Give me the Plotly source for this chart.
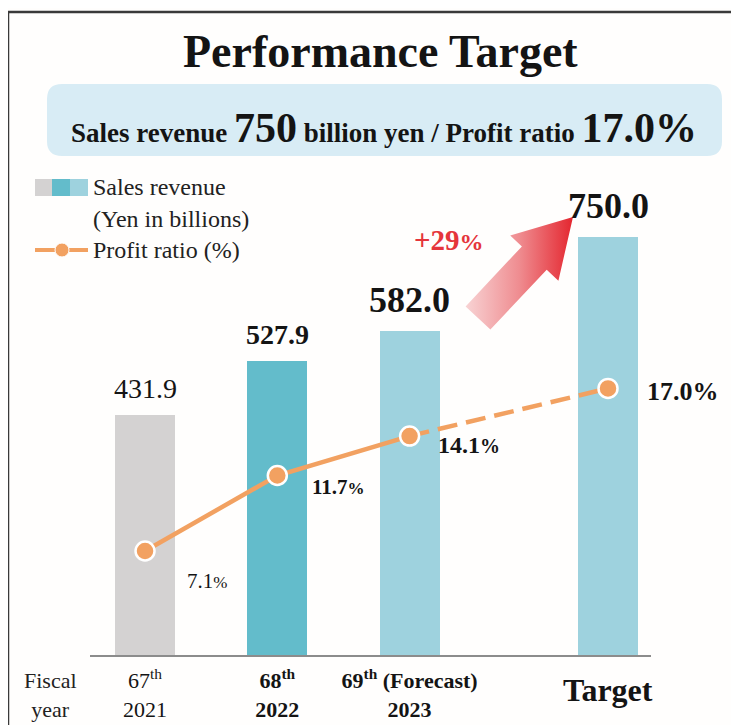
import plotly.graph_objects as go

# The page body adds an 8px offset; the figure is sized/placed so that
# its content lands where the reference shows it.
OFF = 8
W, H = 739 - OFF, 725 - OFF
FONT = "Liberation Serif, Times New Roman, serif"

# ---- data ----
categories = ["67th 2021", "68th 2022", "69th (Forecast) 2023", "Target"]
tick_labels = [
    "67<sup>th</sup><br>2021",
    "<b>68<sup>th</sup><br>2022</b>",
    "<b>69<sup>th</sup> (Forecast)<br>2023</b>",
    "",  # "Target" is drawn slightly lower as its own label below
]
target_label = "<b>Target</b>"
sales = [431.9, 527.9, 582.0, 750.0]          # Yen in billions
profit = [7.1, 11.7, 14.1, 17.0]               # %
n_actual = 3                                   # points joined by a solid line

# ---- layout helpers (positions / styles) ----
slot = [0, 1, 2, 3.5]
bar_colors = ["#d4d2d2", "#63bccb", "#9ed2de", "#9ed2de"]
sales_font = [(28, False), (28, True), (36, True), (36, True)]
profit_font = [(21, 17, False), (21, 17, True), (24, 20, True), (26, 26, True)]
profit_shift = [(40, -30), (33, -12), (26, -9), (37, -3)]
ORANGE = "#f2a161"

fig = go.Figure()

fig.add_trace(go.Bar(
    x=slot, y=sales, width=0.454, marker=dict(color=bar_colors, line=dict(width=0)),
    hoverinfo="skip", showlegend=False, xaxis="x", yaxis="y"))

fig.add_trace(go.Scatter(
    x=slot[:n_actual], y=profit[:n_actual], mode="lines",
    line=dict(color=ORANGE, width=4.5), xaxis="x", yaxis="y2",
    showlegend=False, hoverinfo="skip"))
fig.add_trace(go.Scatter(
    x=slot[n_actual - 1:], y=profit[n_actual - 1:], mode="lines",
    line=dict(color=ORANGE, width=4.5, dash="20px,9px"), xaxis="x", yaxis="y2",
    showlegend=False, hoverinfo="skip"))
fig.add_trace(go.Scatter(
    x=slot, y=profit, mode="markers",
    marker=dict(color=ORANGE, size=19, line=dict(color="white", width=2.5)),
    xaxis="x", yaxis="y2", showlegend=False, hoverinfo="skip"))

# arrow decoration (page-pixel coordinates on overlay axes)
arrow_x = [465.6, 521.9, 510.2, 573.0, 558.4, 546.7, 490.4, 465.6]
arrow_y = [306.4, 246.4, 235.5, 217.0, 280.7, 269.7, 329.6, 306.4]
fig.add_trace(go.Scatter(
    x=arrow_x, y=arrow_y, mode="lines", fill="toself",
    line=dict(width=0, color="rgba(0,0,0,0)"),
    fillgradient=dict(type="horizontal",
                      colorscale=[[0, "#f8d3d4"], [0.5, "#ef8c90"], [1, "#e4262f"]]),
    xaxis="x3", yaxis="y3", showlegend=False, hoverinfo="skip"))

annotations = []
# bar value labels
for x, v, (sz, bold) in zip(slot, sales, sales_font):
    t = f"{v:.1f}"
    annotations.append(dict(
        x=x, y=v, xref="x", yref="y", text=f"<b>{t}</b>" if bold else t,
        showarrow=False, yanchor="bottom", yshift=9,
        font=dict(family=FONT, size=sz, color="#141414")))
# profit labels
for x, v, (sz, psz, bold), (dx, dy) in zip(slot, profit, profit_font, profit_shift):
    t = f"{v:.1f}<span style='font-size:{psz}px'>%</span>"
    annotations.append(dict(
        x=x, y=v, xref="x", yref="y2", text=f"<b>{t}</b>" if bold else t,
        showarrow=False, xanchor="left", yanchor="middle", xshift=dx, yshift=dy,
        font=dict(family=FONT, size=sz, color="#141414")))

def pix(x, y, text, size, **kw):
    d = dict(x=x, y=y, xref=kw.pop("xref", "x3"), yref="y3", text=text, showarrow=False,
             font=dict(family=FONT, size=size, color=kw.pop("color", "#141414")))
    d.update(kw)
    return d

annotations += [
    pix(380, 51, "<b>Performance Target</b>", 46),
    pix(384, 128, "<b>Sales revenue <span style='font-size:42px'>750</span> billion yen / "
                  "Profit ratio <span style='font-size:42px'>17.0%</span></b>", 27),
    pix(91, 187, "Sales revenue", 24, xanchor="left", color="#222"),
    pix(91, 219, "(Yen in billions)", 24, xanchor="left", color="#222"),
    pix(91, 250, "Profit ratio (%)", 24, xanchor="left", color="#222"),
    pix(449, 240, "<b>+29<span style='font-size:24px'>%</span></b>", 29, color="#e5353b"),
    pix(50, 695, "Fiscal<br>year", 22, color="#222"),
    pix(slot[3], 690, target_label, 32, xref="x"),
]

shapes = [
    # frame
    dict(type="line", xref="x3", yref="y3", x0=8, x1=8, y0=12, y1=725,
         line=dict(color="#3a3a3a", width=2.5)),
    dict(type="line", xref="x3", yref="y3", x0=8, x1=739, y0=12, y1=12,
         line=dict(color="#3a3a3a", width=2.5)),
    # rounded banner
    dict(type="path", xref="x3", yref="y3",
         path="M 62 84 L 707 84 Q 722 84 722 99 L 722 141 Q 722 156 707 156 "
              "L 62 156 Q 47 156 47 141 L 47 99 Q 47 84 62 84 Z",
         fillcolor="#d8ecf5", line=dict(width=0), layer="below"),
    # legend swatches
    dict(type="rect", xref="x3", yref="y3", x0=35, x1=52, y0=179, y1=196,
         fillcolor=bar_colors[0], line=dict(width=0)),
    dict(type="rect", xref="x3", yref="y3", x0=52, x1=70, y0=179, y1=196,
         fillcolor=bar_colors[1], line=dict(width=0)),
    dict(type="rect", xref="x3", yref="y3", x0=70, x1=88, y0=179, y1=196,
         fillcolor=bar_colors[2], line=dict(width=0)),
    dict(type="line", xref="x3", yref="y3", x0=35, x1=88, y0=250, y1=250,
         line=dict(color=ORANGE, width=4)),
    dict(type="circle", xref="x3", yref="y3", x0=55, x1=69, y0=243, y1=257,
         fillcolor=ORANGE, line=dict(color="white", width=1)),
]

# page-pixel geometry of the main plot area
PX_L, PX_R, PX_T, PX_B = 90, 651, 160, 655

fig.update_layout(
    width=W, height=H, margin=dict(l=0, r=0, t=0, b=0),
    paper_bgcolor="#fffefd", plot_bgcolor="rgba(0,0,0,0)",
    showlegend=False, bargap=0,
    font=dict(family=FONT, color="#141414"),
    xaxis=dict(domain=[(PX_L - OFF) / W, (PX_R - OFF) / W], range=[-0.416, 3.825],
               tickvals=slot, ticktext=tick_labels, ticks="",
               tickfont=dict(family=FONT, size=22, color="#141414"),
               ticklabelstandoff=5,
               showline=True, linecolor="#8c8c8c", linewidth=2,
               showgrid=False, zeroline=False, anchor="y", fixedrange=True,
               automargin=False),
    yaxis=dict(domain=[(725 - PX_B) / H, (725 - PX_T) / H], range=[0, 889],
               visible=False, fixedrange=True, anchor="x"),
    yaxis2=dict(overlaying="y", range=[0.767, 30.913], visible=False,
                fixedrange=True, anchor="x"),
    xaxis3=dict(domain=[0, 1], range=[OFF, 739], visible=False, anchor="y3",
                fixedrange=True),
    yaxis3=dict(domain=[0, 1], range=[725, OFF], visible=False, anchor="x3",
                fixedrange=True),
    annotations=annotations, shapes=shapes,
)

fig.write_html("out.html")
